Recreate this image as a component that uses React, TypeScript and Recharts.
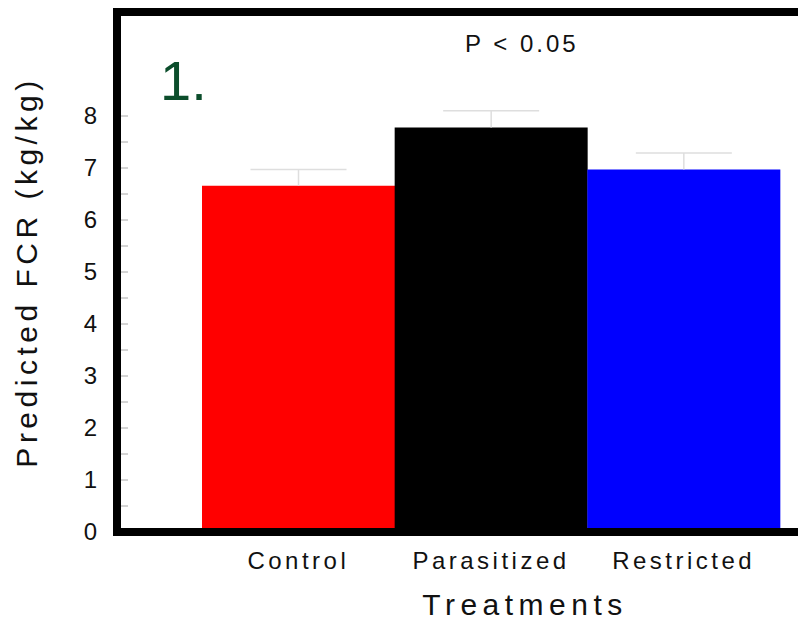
import { BarChart, Bar, XAxis, YAxis, Cell, ReferenceLine } from "recharts";

const treatments = ["Control", "Parasitized", "Restricted"];
const fcrMeans = [6.66, 7.78, 6.97];
const fcrErrors = [0.31, 0.32, 0.32];
const barColors = ["#ff0000", "#000000", "#0000ff"];
const yTicks = [0, 0.5, 1, 1.5, 2, 2.5, 3, 3.5, 4, 4.5, 5, 5.5, 6, 6.5, 7, 7.5, 8];

const data = treatments.map((name, i) => ({
  name,
  value: fcrMeans[i],
  err: fcrErrors[i],
}));

const FONT = '"Liberation Sans", Arial, Helvetica, sans-serif';

function YTick(props: any) {
  const { x, y, payload } = props;
  const isMajor = Number.isInteger(payload.value);
  return (
    <g>
      {payload.value > 0 && (
        <line x1={x + 24} x2={x + 31} y1={y} y2={y} stroke="#a8a8a8" strokeWidth={1} />
      )}
      {isMajor && (
        <text x={x} y={y} dy={8} textAnchor="end" fontFamily={FONT} fontSize={24} fill="#111">
          {payload.value}
        </text>
      )}
    </g>
  );
}

function XTick(props: any) {
  const { x, y, payload } = props;
  return (
    <text x={x} y={y} textAnchor="middle" fontFamily={FONT} fontSize={24} letterSpacing={3.5} fill="#111">
      {payload.value}
    </text>
  );
}

// upper whisker only: stacked segment from mean to mean + err
function Whisker(props: any) {
  const { x, y, width, height } = props;
  const cx = x + width / 2;
  return (
    <g stroke="#dedede" strokeWidth={1.5}>
      <line x1={cx} x2={cx} y1={y} y2={y + height} />
      <line x1={cx - 48} x2={cx + 48} y1={y} y2={y} />
    </g>
  );
}

export default function App() {
  return (
    <div style={{ position: "absolute", left: 0, top: 0, background: "#fff" }}>
      <BarChart
        width={798}
        height={633}
        data={data}
        margin={{ top: 12, right: 0, left: 0, bottom: 0 }}
        barCategoryGap={0}
      >
        <XAxis
          dataKey="name"
          height={101}
          padding={{ left: 85, right: 18 }}
          tickLine={false}
          tickSize={0}
          tickMargin={37}
          tick={<XTick />}
          axisLine={{ stroke: "#000", strokeWidth: 8, strokeLinecap: "square" }}
        />
        <YAxis
          width={117}
          domain={[0, 10]}
          ticks={yTicks}
          interval={0}
          allowDataOverflow
          tickLine={false}
          tickSize={0}
          tickMargin={20}
          tick={<YTick />}
          axisLine={{ stroke: "#000", strokeWidth: 8, strokeLinecap: "square" }}
        />
        <Bar dataKey="value" stackId="fcr" isAnimationActive={false}>
          {data.map((d, i) => (
            <Cell key={d.name} fill={barColors[i]} />
          ))}
        </Bar>
        <Bar dataKey="err" stackId="fcr" shape={<Whisker />} isAnimationActive={false} />
        <ReferenceLine y={10} stroke="#000" strokeWidth={8} />
        <ReferenceLine y={0} stroke="#000" strokeWidth={8} />
        <text
          x={37}
          y={272}
          transform="rotate(-90, 37, 272)"
          textAnchor="middle"
          fontFamily={FONT}
          fontSize={30}
          letterSpacing={4.5}
          fill="#111"
        >
          Predicted FCR (kg/kg)
        </text>
        <text x={525} y={615} textAnchor="middle" fontFamily={FONT} fontSize={30} letterSpacing={5.5} fill="#111">
          Treatments
        </text>
        <text x={465} y={52} fontFamily={FONT} fontSize={24} letterSpacing={3} fill="#111">
          P &lt; 0.05
        </text>
        <text x={160} y={100} fontFamily={FONT} fontSize={56} fill="#0b4d2b">
          1.
        </text>
      </BarChart>
    </div>
  );
}
